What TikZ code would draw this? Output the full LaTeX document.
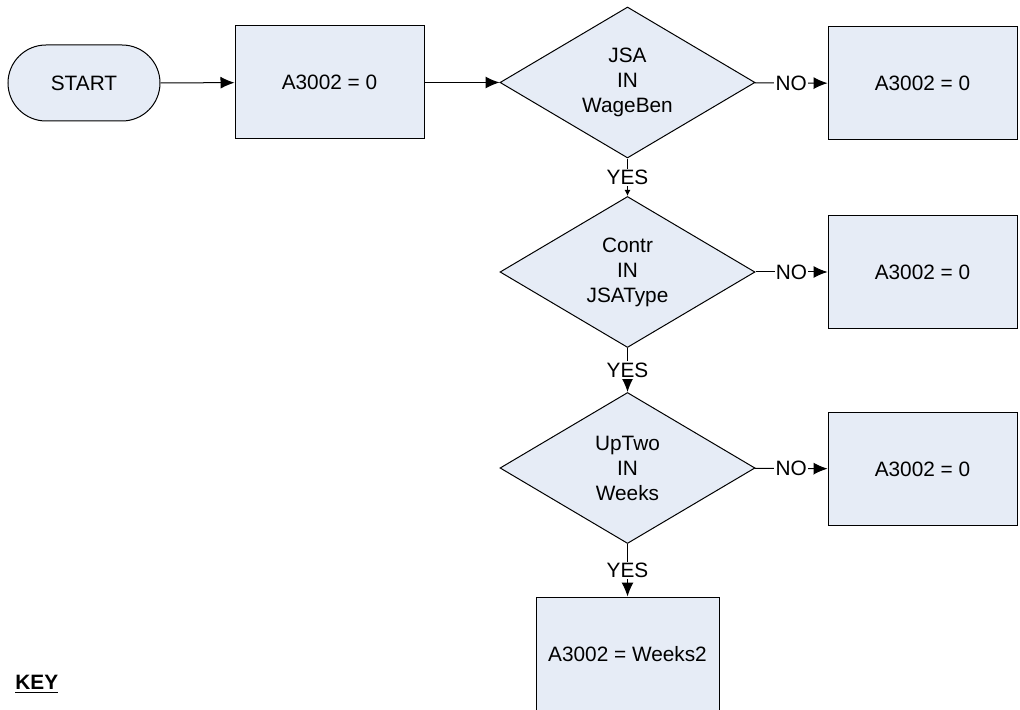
\documentclass[tikz,border=0pt]{standalone}
\usepackage{fontspec}
\setmainfont{Liberation Sans}
\usetikzlibrary{shapes.geometric,arrows.meta}
\definecolor{boxfill}{RGB}{230,236,246}
\tikzset{
  base/.style={draw=black, line width=0.5pt, fill=boxfill, inner sep=0pt, align=center,
    font=\fontsize{10.4}{12.5}\selectfont},
  terminal/.style={base, rectangle, rounded corners=19pt, minimum width=76pt, minimum height=38pt},
  procbox/.style={base, rectangle, minimum width=94.5pt, minimum height=56.5pt},
  decision/.style={base, diamond, aspect=1.69, minimum width=127.5pt, minimum height=75.5pt},
  conn/.style={draw=black, line width=0.5pt, -{Latex[length=7pt,width=6pt]}},
  lbl/.style={fill=white, inner sep=0.6pt, font=\fontsize{10.4}{12.5}\selectfont}
}
\begin{document}
\begin{tikzpicture}[x=0.5pt,y=-0.5pt]
\useasboundingbox (0,0) rectangle (1020,710);
\node[terminal] (start) at (84,83) {START};
\node[procbox] (b1) at (329.5,82.5) {A3002 = 0};
\node[decision] (d1) at (627.5,82.5) {JSA\\IN\\WageBen};
\node[procbox] (n1) at (922.5,83.5) {A3002 = 0};
\node[decision] (d2) at (627.5,272) {Contr\\IN\\JSAType};
\node[procbox] (n2) at (922.5,272) {A3002 = 0};
\node[decision] (d3) at (627.5,468) {UpTwo\\IN\\Weeks};
\node[procbox] (n3) at (922.5,469) {A3002 = 0};
\node[base, rectangle, minimum width=91.5pt, minimum height=57pt] (b2) at (627.5,654) {A3002 = Weeks2};
\node[anchor=west, inner sep=0pt, font=\fontsize{10.4}{12.5}\selectfont\bfseries] (key) at (15,684) {\underline{KEY}};

\draw[conn] (start) -- (b1);
\draw[conn] (b1) -- (d1);
\draw[conn] (d1) -- node[lbl] {NO} (n1);
\draw[conn] (d2) -- node[lbl] {NO} (n2);
\draw[conn] (d3) -- node[lbl] {NO} (n3);
\draw[draw=black, line width=0.5pt, -{Latex[length=3pt,width=3pt]}] (d1) -- node[lbl] {YES} (d2);
\draw[conn] (d2) -- node[lbl] {YES} (d3);
\draw[conn] (d3) -- node[lbl] {YES} (b2);
\end{tikzpicture}
\end{document}
